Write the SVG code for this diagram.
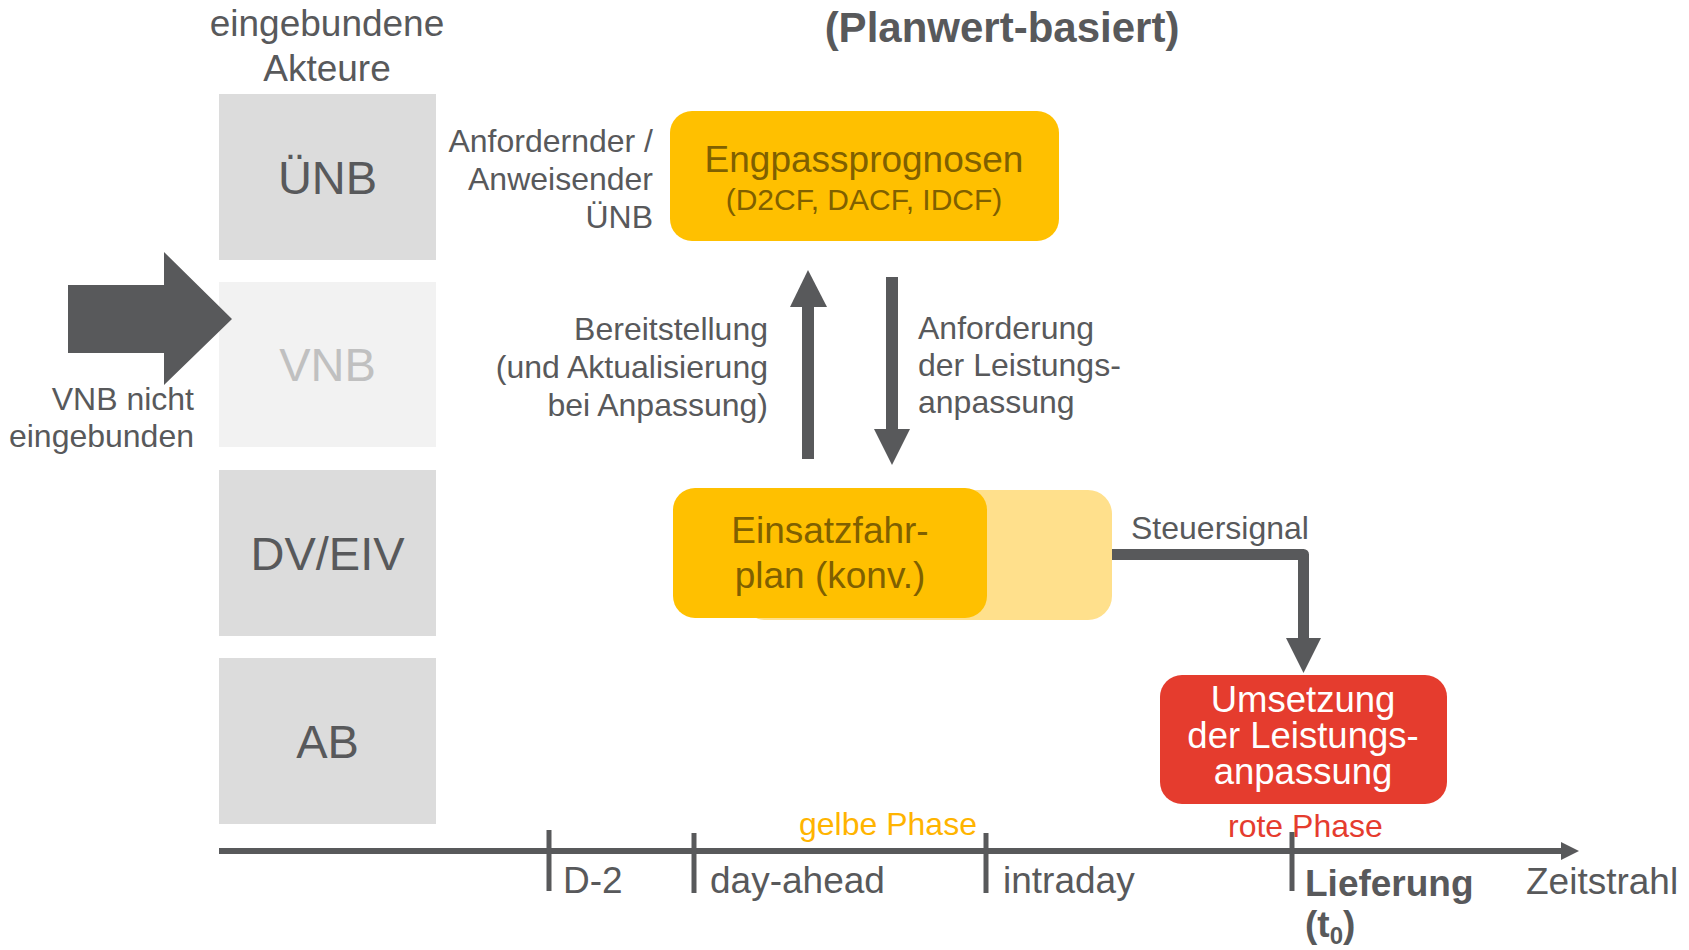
<svg xmlns="http://www.w3.org/2000/svg" width="1689" height="950" viewBox="0 0 1689 950">
  <style>
    text { font-family: "Liberation Sans", Arial, sans-serif; fill: #58595b; }
    .actor { fill: #dcdcdc; }
    .actor-off { fill: #f2f2f2; }
    .actor-label { font-size: 47px; text-anchor: middle; }
    .note { font-size: 32px; }
    .yellow { fill: #ffc000; }
    .yellow-soft { fill: #ffe08c; }
    .yellow-label { fill: #7f6000; text-anchor: middle; }
    .red { fill: #e53c2e; }
    .red-label { fill: #ffffff; font-size: 36.5px; text-anchor: middle; }
    .dark { fill: #58595b; }
    .line { stroke: #58595b; fill: none; }
    .tick-label { font-size: 37px; }
  </style>

  <!-- column heading -->
  <g id="heading">
    <text x="327" y="36" font-size="37" text-anchor="middle">eingebundene</text>
    <text x="327" y="81" font-size="37" text-anchor="middle">Akteure</text>
    <text x="1002" y="42" font-size="42" font-weight="bold" text-anchor="middle">(Planwert-basiert)</text>
  </g>

  <!-- actor lanes -->
  <g id="actor-uenb">
    <rect class="actor" x="219" y="94" width="217" height="166"/>
    <text class="actor-label" x="327.5" y="194">ÜNB</text>
  </g>
  <g id="actor-vnb">
    <rect class="actor-off" x="219" y="282" width="217" height="165"/>
    <text class="actor-label" x="327.5" y="381" style="fill:#c0c0c0">VNB</text>
  </g>
  <g id="actor-dv-eiv">
    <rect class="actor" x="219" y="470" width="217" height="166"/>
    <text class="actor-label" x="327.5" y="570">DV/EIV</text>
  </g>
  <g id="actor-ab">
    <rect class="actor" x="219" y="658" width="217" height="166"/>
    <text class="actor-label" x="327.5" y="758">AB</text>
  </g>

  <!-- VNB not involved marker -->
  <g id="vnb-not-involved">
    <polygon class="dark" points="68,285 164,285 164,252 232,319 164,385 164,353 68,353"/>
    <text class="note" x="194" y="410" text-anchor="end">VNB nicht</text>
    <text class="note" x="194" y="447" text-anchor="end">eingebunden</text>
  </g>

  <!-- requesting TSO label -->
  <g id="label-requesting-tso">
    <text class="note" x="653" y="152" text-anchor="end">Anfordernder /</text>
    <text class="note" x="653" y="190" text-anchor="end">Anweisender</text>
    <text class="note" x="653" y="228" text-anchor="end">ÜNB</text>
  </g>

  <!-- congestion forecasts -->
  <g id="node-engpassprognosen">
    <rect class="yellow" x="670" y="111" width="389" height="130" rx="22"/>
    <text class="yellow-label" x="864" y="172" font-size="37">Engpassprognosen</text>
    <text class="yellow-label" x="864" y="210" font-size="30">(D2CF, DACF, IDCF)</text>
  </g>

  <!-- schedule -->
  <g id="node-einsatzfahrplan">
    <rect class="yellow-soft" x="742" y="490" width="370" height="130" rx="24"/>
    <rect class="yellow" x="673" y="488" width="314" height="130" rx="22"/>
    <text class="yellow-label" x="830" y="543" font-size="37">Einsatzfahr-</text>
    <text class="yellow-label" x="830" y="588" font-size="37">plan (konv.)</text>
  </g>

  <!-- implementation -->
  <g id="node-umsetzung">
    <rect class="red" x="1160" y="675" width="287" height="129" rx="22"/>
    <text class="red-label" x="1303" y="712">Umsetzung</text>
    <text class="red-label" x="1303" y="748">der Leistungs-</text>
    <text class="red-label" x="1303" y="784">anpassung</text>
  </g>

  <!-- connectors -->
  <g id="connectors">
    <!-- provision upwards -->
    <rect class="dark" x="802" y="305" width="12" height="154"/>
    <polygon class="dark" points="808,270 827,307 790,307"/>
    <!-- request downwards -->
    <rect class="dark" x="886" y="277" width="12" height="154"/>
    <polygon class="dark" points="892,465 874,429 910,429"/>
    <!-- control signal -->
    <path class="line" stroke-width="11" stroke-linejoin="round" d="M1112,554.5 H1303.5 V640"/>
    <polygon class="dark" points="1303.5,673 1286,638 1321,638"/>
  </g>

  <!-- connector labels -->
  <g id="connector-labels">
    <text class="note" x="768" y="340" text-anchor="end">Bereitstellung</text>
    <text class="note" x="768" y="378" text-anchor="end">(und Aktualisierung</text>
    <text class="note" x="768" y="416" text-anchor="end">bei Anpassung)</text>
    <text class="note" x="918" y="339">Anforderung</text>
    <text class="note" x="918" y="376">der Leistungs-</text>
    <text class="note" x="918" y="413">anpassung</text>
    <text class="note" x="1131" y="539">Steuersignal</text>
  </g>

  <!-- timeline -->
  <g id="timeline">
    <text x="799" y="835" font-size="32" style="fill:#ffb400">gelbe Phase</text>
    <text x="1228" y="837" font-size="32" style="fill:#e53c2e">rote Phase</text>
    <line class="line" x1="219" y1="851" x2="1565" y2="851" stroke-width="6"/>
    <polygon class="dark" points="1579,851 1561,842 1561,860"/>
    <line class="line" x1="549" y1="830" x2="549" y2="891" stroke-width="5"/>
    <line class="line" x1="694" y1="833" x2="694" y2="893" stroke-width="5"/>
    <line class="line" x1="986" y1="833" x2="986" y2="893" stroke-width="5"/>
    <line class="line" x1="1292" y1="832" x2="1292" y2="891" stroke-width="5"/>
    <text class="tick-label" x="563" y="893">D-2</text>
    <text class="tick-label" x="710" y="893">day-ahead</text>
    <text class="tick-label" x="1003" y="893">intraday</text>
    <text class="tick-label" x="1305" y="896" font-weight="bold">Lieferung</text>
    <text class="tick-label" x="1305" y="937" font-weight="bold">(t<tspan font-size="24" dy="7">0</tspan><tspan dy="-7">)</tspan></text>
    <text class="tick-label" x="1526" y="894">Zeitstrahl</text>
  </g>
</svg>
